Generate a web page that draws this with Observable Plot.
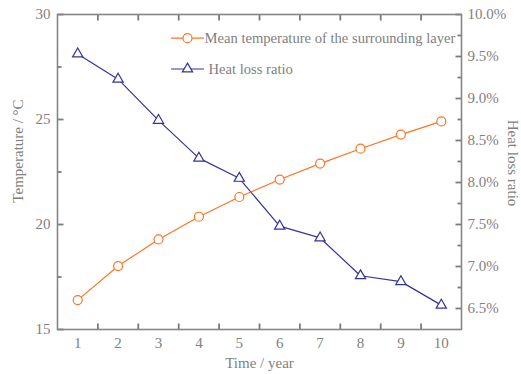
<!DOCTYPE html>
<html>
<head>
<meta charset="utf-8">
<script src="https://cdn.jsdelivr.net/npm/d3@7"></script>
<script src="https://cdn.jsdelivr.net/npm/@observablehq/plot@0.6"></script>
<style>
  html, body { margin: 0; padding: 0; background: #fff; }
</style>
</head>
<body>
<div id="chart"></div>
<script>
const years = [1, 2, 3, 4, 5, 6, 7, 8, 9, 10];
const meanTemperature = [16.40, 18.02, 19.29, 20.37, 21.31, 22.14, 22.90, 23.61, 24.28, 24.91];
const heatLossRatio = [9.53, 9.23, 8.74, 8.29, 8.05, 7.48, 7.34, 6.89, 6.82, 6.54];
const seriesNames = ["Mean temperature of the surrounding layer", "Heat loss ratio"];
const tempTicks = [15, 20, 25, 30];
const tempMinorTicks = [17.5, 22.5, 27.5];
const pctTicks = [6.5, 7.0, 7.5, 8.0, 8.5, 9.0, 9.5, 10.0];
const pctMinorTicks = [6.75, 7.25, 7.75, 8.25, 8.75, 9.25, 9.75];
const xTickMarks = [1.5, 2.5, 3.5, 4.5, 5.5, 6.5, 7.5, 8.5, 9.5];
const tempDomain = [15, 30];
const pctDomain = [6.25, 10.0];
const xDomain = [0.5, 10.5];

const W = 521, H = 374, ML = 57, MR = 60, MT = 14, MB = 45;
const FW = W - ML - MR, FH = H - MT - MB;

const orange = "#ff7326";
const blue = "#33339c";
const gray = "#858585";
const textGray = "#7f7f7f";

// map percent (right axis) into temperature (left axis) space
const k = (tempDomain[1] - tempDomain[0]) / (pctDomain[1] - pctDomain[0]);
const toY = p => tempDomain[0] + (p - pctDomain[0]) * k;

const tempData = years.map((y, i) => ({year: y, v: meanTemperature[i]}));
const heatData = years.map((y, i) => ({year: y, v: toY(heatLossRatio[i])}));

// inward tick segments, lengths given in pixels and converted to data units
const pxX = px => px * (xDomain[1] - xDomain[0]) / FW;
const pxY = px => px * (tempDomain[1] - tempDomain[0]) / FH;
const tickSegs = [];
xTickMarks.forEach(v => {
  tickSegs.push({id: "b" + v, x: v, y: tempDomain[0]}, {id: "b" + v, x: v, y: tempDomain[0] + pxY(6)});
  tickSegs.push({id: "t" + v, x: v, y: tempDomain[1]}, {id: "t" + v, x: v, y: tempDomain[1] - pxY(6)});
});
const addY = (vals, side, len) => vals.forEach(v => {
  const x0 = side === "l" ? xDomain[0] : xDomain[1];
  const x1 = side === "l" ? xDomain[0] + pxX(len) : xDomain[1] - pxX(len);
  tickSegs.push({id: side + v, x: x0, y: v}, {id: side + v, x: x1, y: v});
});
addY(tempTicks, "l", 6);
addY(tempMinorTicks, "l", 4);
addY(pctTicks.map(toY), "r", 6);
addY(pctMinorTicks.map(toY), "r", 4);

const segment = {draw(context, l) { context.moveTo(0, 0); context.lineTo(0, -l); }};

const chart = Plot.plot({
  width: W,
  height: H,
  marginLeft: ML,
  marginRight: MR,
  marginTop: MT,
  marginBottom: MB,
  style: {fontFamily: "'Liberation Serif', 'Times New Roman', serif", fontSize: "15px", color: textGray, background: "#fff"},
  x: {domain: xDomain},
  y: {domain: tempDomain},
  marks: [
    // inward tick marks
    Plot.line(tickSegs, {x: "x", y: "y", z: "id", stroke: "#7a7a7a", strokeWidth: 1.8, strokeLinecap: "butt"}),
    // tick labels
    Plot.axisX({anchor: "bottom", ticks: years, tickSize: 0, tickPadding: 8, label: null, fontSize: 15, fill: textGray}),
    Plot.axisY({anchor: "left", ticks: tempTicks, tickSize: 0, tickPadding: 7, label: null, fontSize: 15, fill: textGray}),
    Plot.axisY({anchor: "right", ticks: pctTicks.map(toY), tickSize: 0, tickPadding: 6, label: null, fontSize: 15, fill: textGray,
      tickFormat: (d, i) => pctTicks[i].toFixed(1) + "%"}),
    Plot.frame({stroke: gray, strokeWidth: 1.6}),
    // axis titles
    Plot.text(["Temperature / \u00B0C"], {frameAnchor: "left", dx: -39, dy: -21, rotate: -90, textAnchor: "middle", lineAnchor: "middle", fill: textGray, fontSize: 15}),
    Plot.text(["Heat loss ratio"], {frameAnchor: "right", dx: 51, dy: -9, rotate: 90, textAnchor: "middle", lineAnchor: "middle", fill: textGray, fontSize: 15}),
    Plot.text(["Time / year"], {frameAnchor: "bottom", dy: 34, textAnchor: "middle", lineAnchor: "middle", fill: textGray, fontSize: 15}),
    // series
    Plot.line(heatData, {x: "year", y: "v", stroke: blue, strokeWidth: 1.2}),
    Plot.dot(heatData, {x: "year", y: "v", symbol: "triangle", r: 3.8, stroke: blue, fill: "white", strokeWidth: 1.2}),
    Plot.line(tempData, {x: "year", y: "v", stroke: orange, strokeWidth: 1.2}),
    Plot.dot(tempData, {x: "year", y: "v", r: 4.5, stroke: orange, fill: "white", strokeWidth: 1.2}),
    // legend
    Plot.vector([0], {x: null, y: null, frameAnchor: "top-left", dx: 114, dy: 23.7, length: 32, rotate: 90, anchor: "start", shape: segment, stroke: orange, strokeWidth: 1.2}),
    Plot.dot([0], {x: null, y: null, frameAnchor: "top-left", dx: 130, dy: 23.7, r: 4.5, stroke: orange, fill: "white", strokeWidth: 1.2}),
    Plot.text([seriesNames[0]], {frameAnchor: "top-left", dx: 147, dy: 23.7, textAnchor: "start", lineAnchor: "middle", fill: textGray, fontSize: 14.6}),
    Plot.vector([0], {x: null, y: null, frameAnchor: "top-left", dx: 114, dy: 54.5, length: 32, rotate: 90, anchor: "start", shape: segment, stroke: blue, strokeWidth: 1.2}),
    Plot.dot([0], {x: null, y: null, frameAnchor: "top-left", dx: 130, dy: 54.5, symbol: "triangle", r: 3.8, stroke: blue, fill: "white", strokeWidth: 1.2}),
    Plot.text([seriesNames[1]], {frameAnchor: "top-left", dx: 151, dy: 54.5, textAnchor: "start", lineAnchor: "middle", fill: textGray, fontSize: 14.6})
  ]
});
document.getElementById("chart").appendChild(chart);
</script>
</body>
</html>
